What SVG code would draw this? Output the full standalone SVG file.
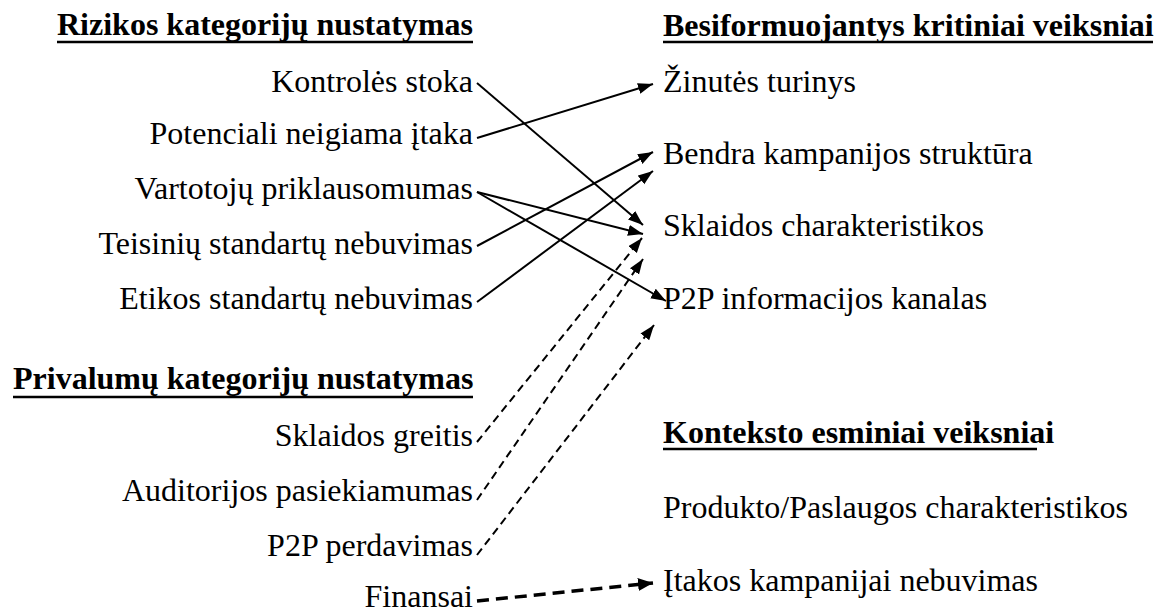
<svg xmlns="http://www.w3.org/2000/svg" width="1156" height="615" viewBox="0 0 1156 615">
  <style>
    .t { font-size: 32px; fill: #000; }
    .h { font-weight: bold; }
    .l { text-anchor: end; }
    .ul { stroke: #000; stroke-width: 2.5; }
    .c { fill: none; stroke: #000; stroke-width: 2; }
    .d { stroke-dasharray: 8 5; }
    .dd { stroke-width: 3.5; stroke-dasharray: 12 7; }
  </style>
  <defs>
    <marker id="arr" markerUnits="userSpaceOnUse" markerWidth="16" markerHeight="12" refX="15" refY="5.5" orient="auto">
      <path d="M0,0 L15,5.5 L0,11 z" fill="#000"/>
    </marker>
    <marker id="arrB" markerUnits="userSpaceOnUse" markerWidth="16" markerHeight="14" refX="15" refY="6.5" orient="auto">
      <path d="M0,0 L15,6.5 L0,13 z" fill="#000"/>
    </marker>
  </defs>

  <g font-family="'Liberation Serif', 'DejaVu Serif', serif">
  <!-- section headings -->
  <g id="head-rizikos">
    <text class="t h" x="57" y="35">Rizikos kategorijų nustatymas</text>
    <line class="ul" x1="57" y1="42" x2="473" y2="42"/>
  </g>
  <g id="head-besiformuojantys">
    <text class="t h" x="663" y="36">Besiformuojantys kritiniai veiksniai</text>
    <line class="ul" x1="663" y1="42" x2="1153" y2="42"/>
  </g>
  <g id="head-privalumu">
    <text class="t h" x="13" y="389">Privalumų kategorijų nustatymas</text>
    <line class="ul" x1="13" y1="397" x2="473" y2="397"/>
  </g>
  <g id="head-konteksto">
    <text class="t h" x="663" y="443">Konteksto esminiai veiksniai</text>
    <line class="ul" x1="663" y1="449" x2="1037" y2="449"/>
  </g>

  <!-- risk factors -->
  <g id="n-kontroles"><text class="t l" x="473" y="92">Kontrolės stoka</text></g>
  <g id="n-potenciali"><text class="t l" x="473" y="144">Potenciali neigiama įtaka</text></g>
  <g id="n-vartotoju"><text class="t l" x="473" y="199">Vartotojų priklausomumas</text></g>
  <g id="n-teisiniu"><text class="t l" x="473" y="254">Teisinių standartų nebuvimas</text></g>
  <g id="n-etikos"><text class="t l" x="473" y="309">Etikos standartų nebuvimas</text></g>

  <!-- advantage factors -->
  <g id="n-sklaidos-greitis"><text class="t l" x="473" y="446">Sklaidos greitis</text></g>
  <g id="n-auditorijos"><text class="t l" x="473" y="501">Auditorijos pasiekiamumas</text></g>
  <g id="n-p2p-perdavimas"><text class="t l" x="473" y="556">P2P perdavimas</text></g>
  <g id="n-finansai"><text class="t l" x="473" y="607">Finansai</text></g>

  <!-- emerging critical factors -->
  <g id="n-zinutes"><text class="t" x="663" y="92">Žinutės turinys</text></g>
  <g id="n-bendra"><text class="t" x="663" y="164">Bendra kampanijos struktūra</text></g>
  <g id="n-sklaidos-char"><text class="t" x="663" y="236">Sklaidos charakteristikos</text></g>
  <g id="n-p2p-kanalas"><text class="t" x="663" y="309">P2P informacijos kanalas</text></g>

  <!-- context factors -->
  <g id="n-produkto"><text class="t" x="663" y="518">Produkto/Paslaugos charakteristikos</text></g>
  <g id="n-itakos"><text class="t" x="663" y="591">Įtakos kampanijai nebuvimas</text></g>
  </g>

  <!-- connectors -->
  <g id="connectors">
    <line class="c" x1="477" y1="83" x2="643" y2="225" marker-end="url(#arr)"/>
    <line class="c" x1="477" y1="138" x2="653" y2="84" marker-end="url(#arr)"/>
    <line class="c" x1="477" y1="192" x2="643" y2="234" marker-end="url(#arr)"/>
    <line class="c" x1="477" y1="192" x2="666" y2="301" marker-end="url(#arr)"/>
    <line class="c" x1="477" y1="246" x2="653" y2="152" marker-end="url(#arr)"/>
    <line class="c" x1="477" y1="302" x2="653" y2="171" marker-end="url(#arr)"/>

    <line class="c d" x1="477" y1="442" x2="642" y2="238" marker-end="url(#arr)"/>
    <line class="c d" x1="477" y1="500" x2="643" y2="259" marker-end="url(#arr)"/>
    <line class="c d" x1="477" y1="555" x2="654" y2="325" marker-end="url(#arr)"/>

    <line class="c dd" x1="477" y1="601" x2="653" y2="583" marker-end="url(#arrB)"/>
  </g>
</svg>
